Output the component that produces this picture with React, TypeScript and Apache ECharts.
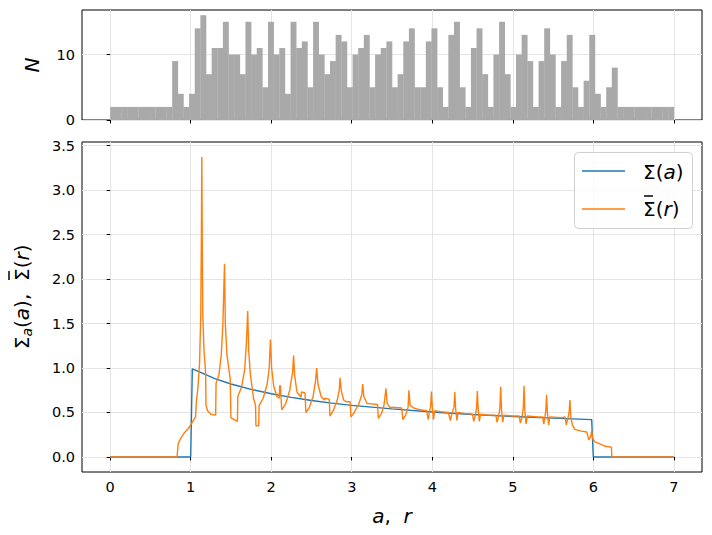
import React, { useEffect, useRef } from "react";
import * as echarts from "echarts";

const binWidth = 0.07;
const histCounts = [
  2, 2, 2, 2, 2, 2, 2, 2, 2, 2, 2, 9, 4, 2, 4, 14, 16, 7, 11, 11,
  15, 10, 10, 7, 15, 10, 11, 5, 15, 10, 11, 4, 15, 11, 12, 5, 15, 10, 7, 9,
  13, 12, 5, 10, 11, 13, 5, 10, 11, 12, 5, 7, 12, 14, 5, 5, 12, 14, 5, 2,
  13, 15, 5, 2, 11, 14, 7, 2, 10, 15, 7, 2, 10, 13, 9, 2, 9, 14, 10, 2,
  9, 13, 5, 2, 6, 13, 4, 2, 5, 8, 2, 2, 2, 2, 2, 2, 2, 2, 2, 2,
];

const sigmaA = [
  [0, 0], [1.0, 0], [1.02, 0.99], [1.1, 0.96], [1.2, 0.92], [1.3, 0.88], [1.5, 0.82],
  [1.75, 0.76], [2.0, 0.71], [2.25, 0.67], [2.5, 0.635], [2.75, 0.605], [3.0, 0.58],
  [3.5, 0.54], [4.0, 0.505], [4.5, 0.478], [5.0, 0.455], [5.5, 0.437], [5.98, 0.42],
  [6.0, 0], [7.0, 0],
];

const sigmaBarR = [
  [0, 0], [0.83, 0], [0.845, 0.15], [0.87, 0.2], [0.92, 0.27], [0.97, 0.32], [1.0, 0.36],
  [1.06, 0.45], [1.07, 0.62], [1.09, 0.78], [1.11, 1.05], [1.125, 1.6], [1.133, 2.5],
  [1.138, 3.37], [1.143, 2.5], [1.15, 1.6], [1.165, 1.2], [1.185, 0.95], [1.19, 0.58],
  [1.21, 0.52], [1.25, 0.48], [1.31, 0.47], [1.315, 0.83], [1.35, 0.92], [1.38, 1.15],
  [1.4, 1.5], [1.42, 2.17], [1.43, 1.5], [1.45, 1.15], [1.49, 0.88], [1.5, 0.44],
  [1.58, 0.4], [1.585, 0.68], [1.63, 0.78], [1.67, 0.98], [1.69, 1.25], [1.708, 1.64],
  [1.72, 1.2], [1.74, 0.94], [1.78, 0.66], [1.805, 0.58], [1.81, 0.35], [1.845, 0.35],
  [1.85, 0.58], [1.9, 0.66], [1.95, 0.82], [1.975, 1.0], [1.99, 1.32], [2.005, 1.0],
  [2.03, 0.8], [2.07, 0.68], [2.1, 0.66], [2.105, 0.8], [2.115, 0.8], [2.13, 0.53],
  [2.18, 0.6], [2.23, 0.75], [2.265, 0.95], [2.278, 1.14], [2.29, 0.92], [2.32, 0.73],
  [2.37, 0.67], [2.375, 0.73], [2.42, 0.72], [2.43, 0.5], [2.47, 0.55], [2.52, 0.68],
  [2.55, 0.85], [2.565, 1.0], [2.58, 0.82], [2.62, 0.68], [2.66, 0.64], [2.665, 0.66],
  [2.72, 0.65], [2.73, 0.46], [2.77, 0.52], [2.82, 0.64], [2.845, 0.75], [2.855, 0.89],
  [2.87, 0.74], [2.9, 0.64], [2.93, 0.62], [2.98, 0.62], [2.99, 0.45], [3.03, 0.5],
  [3.09, 0.6], [3.125, 0.7], [3.136, 0.82], [3.15, 0.68], [3.19, 0.6], [3.21, 0.6],
  [3.32, 0.59], [3.33, 0.435], [3.37, 0.49], [3.4, 0.58], [3.425, 0.77], [3.44, 0.6],
  [3.48, 0.55], [3.5, 0.56], [3.62, 0.55], [3.635, 0.42], [3.67, 0.47], [3.7, 0.56],
  [3.71, 0.75], [3.725, 0.58], [3.77, 0.55], [3.85, 0.53], [3.93, 0.52], [3.95, 0.42],
  [3.965, 0.5], [3.98, 0.57], [3.99, 0.735], [4.0, 0.57], [4.015, 0.42], [4.03, 0.52],
  [4.1, 0.51], [4.2, 0.5], [4.225, 0.41], [4.245, 0.49], [4.27, 0.56], [4.28, 0.73],
  [4.29, 0.55], [4.305, 0.41], [4.32, 0.5], [4.4, 0.49], [4.5, 0.48], [4.515, 0.4],
  [4.535, 0.47], [4.55, 0.55], [4.56, 0.74], [4.57, 0.54], [4.585, 0.4], [4.6, 0.48],
  [4.7, 0.47], [4.79, 0.47], [4.805, 0.39], [4.825, 0.46], [4.84, 0.55], [4.85, 0.79],
  [4.86, 0.53], [4.875, 0.39], [4.89, 0.47], [5.0, 0.46], [5.08, 0.46], [5.095, 0.38],
  [5.115, 0.45], [5.13, 0.54], [5.14, 0.8], [5.15, 0.52], [5.165, 0.37], [5.18, 0.46],
  [5.3, 0.45], [5.37, 0.45], [5.385, 0.37], [5.4, 0.45], [5.41, 0.52], [5.42, 0.7],
  [5.43, 0.5], [5.445, 0.36], [5.46, 0.45], [5.6, 0.44], [5.65, 0.45], [5.665, 0.36],
  [5.685, 0.44], [5.7, 0.5], [5.71, 0.64], [5.72, 0.45], [5.74, 0.36], [5.77, 0.31],
  [5.85, 0.29], [5.92, 0.28], [5.945, 0.19], [5.97, 0.24], [5.98, 0.3], [5.99, 0.21],
  [6.02, 0.17], [6.06, 0.155], [6.15, 0.12], [6.225, 0.11], [6.23, 0], [7.0, 0],
];

const xTicks = [0, 1, 2, 3, 4, 5, 6, 7];
const histTicks = [0, 10];
const sigmaTicks = [0, 0.5, 1, 1.5, 2, 2.5, 3, 3.5];

const FONT = "DejaVu Sans";
const BLUE = "#1f77b4";
const ORANGE = "#ff7f0e";
const TICK_FS = 14.5;

export default function App() {
  const ref = useRef<HTMLDivElement>(null);
  useEffect(() => {
    const chart = echarts.init(ref.current!, null, { renderer: "svg" });
    const histData = histCounts.map((c, i) => [i * binWidth, (i + 1) * binWidth, c]);
    const tickStyle = { show: true, inside: false, length: 3.5, lineStyle: { color: "#000", width: 1 } };
    const gridLine = { show: true, lineStyle: { color: "#e4e4e4", width: 1 } };
    const italic = { fontFamily: FONT, fontStyle: "italic", fontSize: 20, color: "#000" };
    const normal = { fontFamily: FONT, fontSize: 20, color: "#000" };
    const macron = (x1: number, x2: number, y: number) => ({
      type: "line",
      shape: { x1, y1: y, x2, y2: y },
      style: { stroke: "#000", lineWidth: 1.5 },
    });
    const labelStyle = { fontFamily: FONT, fontSize: TICK_FS, color: "#000", margin: 7 };
    chart.setOption({
      animation: false,
      grid: [
        { left: 82, right: 10, top: 10, height: 110, show: true, borderColor: "#000", borderWidth: 1, backgroundColor: "transparent" },
        { left: 82, right: 10, top: 142, bottom: 63, show: true, borderColor: "#000", borderWidth: 1, backgroundColor: "transparent" },
      ],
      xAxis: [
        {
          type: "value", gridIndex: 0, min: -0.35, max: 7.35,
          axisLine: { show: false },
          axisTick: { ...tickStyle, customValues: xTicks },
          axisLabel: { show: false, customValues: xTicks },
          splitLine: gridLine,
        },
        {
          type: "value", gridIndex: 1, min: -0.35, max: 7.35,
          axisLine: { show: false },
          axisTick: { ...tickStyle, customValues: xTicks },
          axisLabel: { customValues: xTicks, ...labelStyle },
          splitLine: gridLine,
        },
      ],
      yAxis: [
        {
          type: "value", gridIndex: 0, min: 0, max: 16.8,
          axisLine: { show: false },
          axisTick: { ...tickStyle, customValues: histTicks },
          axisLabel: { customValues: histTicks, ...labelStyle },
          splitLine: gridLine,
        },
        {
          type: "value", gridIndex: 1, min: -0.169, max: 3.54,
          axisLine: { show: false },
          axisTick: { ...tickStyle, customValues: sigmaTicks },
          axisLabel: { customValues: sigmaTicks, ...labelStyle, formatter: (v: number) => v.toFixed(1) },
          splitLine: gridLine,
        },
      ],
      series: [
        {
          type: "custom", xAxisIndex: 0, yAxisIndex: 0, data: histData,
          renderItem: (params: any, api: any) => {
            const p0 = api.coord([api.value(0), 0]);
            const p1 = api.coord([api.value(1), api.value(2)]);
            return {
              type: "rect",
              shape: { x: p0[0], y: p1[1], width: p1[0] - p0[0] + 0.3, height: p0[1] - p1[1] },
              style: { fill: "#a9a9a9" },
            };
          },
        },
        {
          name: "Σ(a)", type: "line", xAxisIndex: 1, yAxisIndex: 1, data: sigmaA,
          showSymbol: false, symbol: "none", lineStyle: { color: BLUE, width: 1.4 },
          itemStyle: { color: BLUE },
        },
        {
          name: "Σ̄(r)", type: "line", xAxisIndex: 1, yAxisIndex: 1, data: sigmaBarR,
          showSymbol: false, symbol: "none", lineStyle: { color: ORANGE, width: 1.4 },
          itemStyle: { color: ORANGE },
        },
      ],
      graphic: [
        {
          type: "rect", z: 100,
          shape: { x: 574.5, y: 152.5, width: 118, height: 76, r: 4 },
          style: { fill: "rgba(255,255,255,0.8)", stroke: "#d0d0d0", lineWidth: 1 },
        },
        {
          type: "line", z: 101,
          shape: { x1: 582, y1: 171, x2: 625, y2: 171 },
          style: { stroke: BLUE, lineWidth: 1.4 },
        },
        {
          type: "text", z: 101, x: 643, y: 172,
          style: { text: "{n|Σ(}{i|a}{n|)}", align: "left", verticalAlign: "middle", rich: { n: normal, i: italic } },
        },
        {
          type: "line", z: 101,
          shape: { x1: 582, y1: 209, x2: 625, y2: 209 },
          style: { stroke: ORANGE, lineWidth: 1.4 },
        },
        {
          type: "text", z: 101, x: 643, y: 209,
          style: { text: "{n|Σ(}{i|r}{n|)}", align: "left", verticalAlign: "middle", rich: { n: normal, i: italic } },
        },
        { ...macron(644, 653, 196), z: 101 },
        {
          type: "text", x: 32, y: 65, rotation: Math.PI / 2,
          style: { text: "N", font: `italic 20px '${FONT}'`, fill: "#000", align: "center", verticalAlign: "middle" },
        },
        {
          type: "group", x: 22, y: 307, rotation: Math.PI / 2,
          children: [
            {
              type: "text", x: 26, y: 0,
              style: {
                text: "{n|Σ}{s|a}{n|(}{i|a}{n|),  }",
                align: "right", verticalAlign: "middle",
                rich: {
                  n: normal, i: italic,
                  s: { fontFamily: FONT, fontStyle: "italic", fontSize: 14, color: "#000", padding: [10, 0, 0, 0] },
                },
              },
            },
            {
              type: "text", x: 26, y: 0,
              style: { text: "{n|Σ(}{i|r}{n|)}", align: "left", verticalAlign: "middle", rich: { n: normal, i: italic } },
            },
            macron(27, 36, -13),
          ],
        },
        {
          type: "text", x: 392, y: 516,
          style: {
            text: "{i|a}{n|,  }{i|r}",
            align: "center", verticalAlign: "middle",
            rich: { n: normal, i: italic },
          },
        },
      ],
    });
    return () => chart.dispose();
  }, []);
  return <div ref={ref} style={{ position: "absolute", left: 0, top: 0, width: 712, height: 535 }} />;
}
